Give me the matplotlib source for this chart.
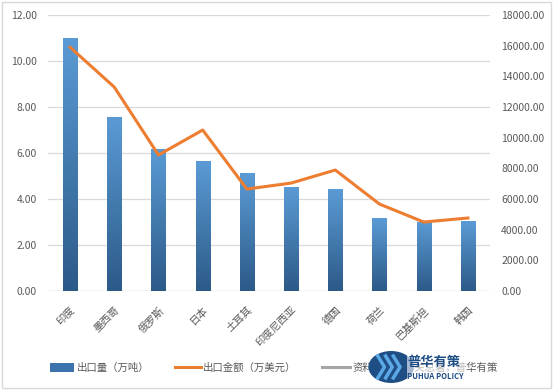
import numpy as np
import matplotlib
matplotlib.use("Agg")
import matplotlib.pyplot as plt
from matplotlib.patches import Circle, Rectangle

plt.rcParams["font.family"] = ["Noto Sans CJK SC", "DejaVu Sans"]

countries = ["印度", "墨西哥", "俄罗斯", "日本", "土耳其", "印度尼西亚", "德国", "荷兰", "巴基斯坦", "韩国"]
volume = [11.0, 7.57, 6.17, 5.65, 5.13, 4.52, 4.43, 3.17, 3.0, 3.04]          # 万吨
amount = [15900, 13300, 8870, 10500, 6650, 7040, 7890, 5670, 4500, 4760]     # 万美元

GRAY = "#595959"
GRID = "#d9d9d9"
ORANGE = "#ed7d31"
LOGO = "#1f4e85"

fig = plt.figure(figsize=(5.54, 3.9), dpi=100)
ax = fig.add_axes([0.0866, 0.2538, 0.7979, 0.7077])
ax2 = ax.twinx()

x = np.arange(len(countries))
bars = ax.bar(x, volume, width=0.32, color="#4a86c5", zorder=2)

# vertical gradient inside each bar
grad = np.linspace(0, 1, 256).reshape(-1, 1)
cmap = matplotlib.colors.LinearSegmentedColormap.from_list("g", ["#2c5a88", "#5b9bd5"])
for b in bars:
    x0, w, h = b.get_x(), b.get_width(), b.get_height()
    im = ax.imshow(grad, cmap=cmap, aspect="auto", origin="lower",
                   extent=[x0, x0 + w, 0, h], zorder=3)
    im.set_clip_path(b)

ax2.plot(x, amount, color=ORANGE, lw=2.2, zorder=4)

ax.set_xlim(-0.5, len(countries) - 0.5)
ax.set_ylim(0, 12)
ax2.set_ylim(0, 18000)
ax.set_yticks(np.arange(0, 12.01, 2))
ax.set_yticklabels([f"{v:.2f}" for v in np.arange(0, 12.01, 2)])
ax2.set_yticks(np.arange(0, 18001, 2000))
ax2.set_yticklabels([f"{v:.2f}" for v in np.arange(0, 18001, 2000)])
ax.set_xticks(x)
ax.set_xticklabels(countries, rotation=45, ha="right", rotation_mode="anchor")

for a in (ax, ax2):
    for s in a.spines.values():
        s.set_visible(False)
    a.tick_params(length=0, labelsize=7.5, colors=GRAY)
ax.tick_params(axis="y", pad=8)
ax2.tick_params(axis="y", pad=8)
ax.tick_params(axis="x", pad=10)
ax.yaxis.grid(True, color=GRID, lw=0.9, zorder=0)
ax.set_axisbelow(True)
ax.axhline(0, color=GRID, lw=0.9, zorder=1)

# legend row
ly = 0.058
fig.patches.append(Rectangle((0.091, ly - 0.012), 0.042, 0.024, transform=fig.transFigure,
                             facecolor="#3c73ad", edgecolor="none"))
fig.text(0.139, ly, "出口量（万吨）", fontsize=7.5, color=GRAY, va="center")
fig.lines.append(plt.Line2D([0.316, 0.362], [ly, ly], transform=fig.transFigure, color=ORANGE, lw=2.2))
fig.text(0.366, ly, "出口金额（万美元）", fontsize=7.5, color=GRAY, va="center")
fig.lines.append(plt.Line2D([0.582, 0.632], [ly, ly], transform=fig.transFigure, color="#a5a5a5", lw=2.2))
fig.text(0.636, ly, "资料来源：海关总署，普华有策", fontsize=7.5, color=GRAY, va="center")

# logo watermark
fig.patches.append(Circle((0.706, 0.059), 0.041, transform=fig.transFigure,
                          facecolor=LOGO, edgecolor="none", zorder=5))
for dx in (-0.018, -0.004, 0.010):
    fig.lines.append(plt.Line2D([0.700 + dx, 0.712 + dx, 0.700 + dx], [0.087, 0.059, 0.031],
                                transform=fig.transFigure, color="#5aa9e6", lw=2.5, zorder=6))
fig.patches.append(Rectangle((0.735, 0.02), 0.105, 0.078, transform=fig.transFigure,
                             facecolor="white", edgecolor="none", alpha=0.6, zorder=5))
fig.text(0.735, 0.073, "普华有策", fontsize=9.5, color=LOGO, weight="bold", va="center", zorder=6)
fig.text(0.735, 0.034, "PUHUA POLICY", fontsize=5.5, color=LOGO, weight="bold", va="center", zorder=6)

# outer border
fig.patches.append(Rectangle((0.004, 0.006), 0.99, 0.988, transform=fig.transFigure,
                             facecolor="none", edgecolor="#d9d9d9", lw=1))

fig.savefig("out.png", dpi=100)
